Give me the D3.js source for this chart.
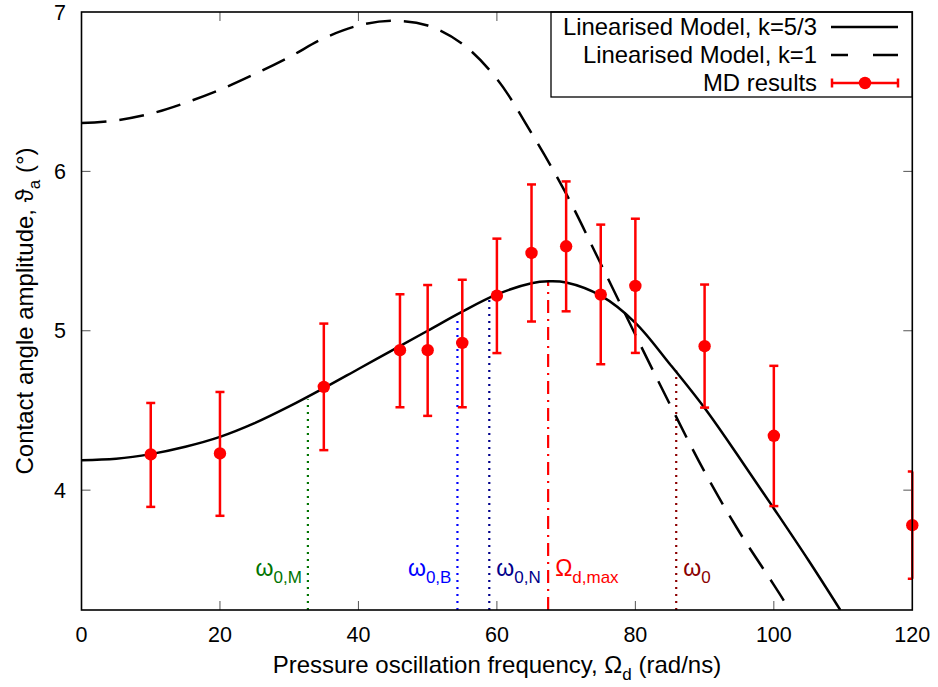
<!DOCTYPE html>
<html><head><meta charset="utf-8">
<script src="https://cdn.jsdelivr.net/npm/d3@7"></script>
<style>body{margin:0;background:#fff}svg{display:block;font-family:"Liberation Sans",Arial,sans-serif}</style>
</head><body><svg id="c" width="938" height="687"></svg>
<script>
// ---- data ----
const mdX    = [10, 20, 35, 46, 50, 55, 60, 65, 70, 75, 80, 90, 100, 120];
const mdY    = [4.224, 4.23, 4.648, 4.878, 4.878, 4.924, 5.22, 5.488, 5.53, 5.227, 5.281, 4.903, 4.341, 3.78];
const mdLow  = [3.895, 3.839, 4.251, 4.52, 4.466, 4.52, 4.86, 5.058, 5.122, 4.79, 4.861, 4.518, 3.90, 3.444];
const mdHigh = [4.547, 4.616, 5.045, 5.229, 5.287, 5.32, 5.578, 5.918, 5.937, 5.666, 5.703, 5.29, 4.78, 4.117];

const k53X = [0, 5, 10, 15, 20, 25, 30, 35, 40, 45, 50, 55, 60, 65, 67.5, 70, 75, 80, 85, 90, 95, 100, 105, 109.6];
const k53Y = [4.188, 4.197, 4.226, 4.272, 4.334, 4.42, 4.525, 4.64, 4.76, 4.88, 5.0, 5.12, 5.228, 5.298, 5.31, 5.303, 5.22, 5.05, 4.79, 4.515, 4.205, 3.885, 3.56, 3.248];

const k1X = [0, 5, 10, 15, 20, 25, 30, 35, 40, 45, 50, 55, 60, 65, 70, 75, 80, 85, 90, 95, 100, 102.3];
const k1Y = [6.303, 6.32, 6.362, 6.43, 6.512, 6.61, 6.717, 6.835, 6.915, 6.945, 6.915, 6.80, 6.58, 6.24, 5.86, 5.42, 4.975, 4.537, 4.115, 3.739, 3.406, 3.248];

const markerX      = [32.7, 54.3, 58.9, 67.4, 85.9];
const markerTop    = [4.57, 5.09, 5.20, 5.31, 4.75];
const markerSymbol = ["ω", "ω", "ω", "Ω", "ω"];
const markerSub    = ["0,M", "0,B", "0,N", "d,max", "0"];
const markerColor  = ["#007400", "#0000ff", "#00008b", "#ff0000", "#8b0000"];
const markerSide   = ["end", "end", "start", "start", "start"];
const markerDash   = ["2,5", "2,5", "2,5", "13,6,2,6", "2,5"];

const xTicks = [0, 20, 40, 60, 80, 100, 120];
const yTicks = [4, 5, 6, 7];
const legendLabels = ["Linearised Model, k=5/3", "Linearised Model, k=1", "MD results"];
const legendWidths = [254, 234, 114];

// ---- layout ----
const L = 81.5, R = 912.3, T = 12, B = 610;
const svg = d3.select("#c");
const x = d3.scaleLinear().domain([0, 120]).range([L, R]);
const y = d3.scaleLinear().domain([3.248, 7]).range([B, T]);

svg.append("defs").append("clipPath").attr("id", "clip")
  .append("rect").attr("x", L).attr("y", T).attr("width", R - L).attr("height", B - T);

// ticks (inner, mirrored)
const tk = 9;
const gt = svg.append("g").attr("stroke", "#555").attr("stroke-width", 1);
xTicks.slice(1, -1).forEach(v => {
  gt.append("line").attr("x1", x(v)).attr("x2", x(v)).attr("y1", B).attr("y2", B - tk);
  gt.append("line").attr("x1", x(v)).attr("x2", x(v)).attr("y1", T).attr("y2", T + tk);
});
yTicks.filter(v => v < 7).forEach(v => {
  gt.append("line").attr("x1", L).attr("x2", L + tk).attr("y1", y(v)).attr("y2", y(v));
  gt.append("line").attr("x1", R).attr("x2", R - tk).attr("y1", y(v)).attr("y2", y(v));
});

// tick labels
svg.append("g").selectAll("text").data(xTicks).join("text")
  .attr("x", d => x(d)).attr("y", 642).attr("text-anchor", "middle")
  .attr("font-size", 21.5).text(d => d);
svg.append("g").selectAll("text").data(yTicks).join("text")
  .attr("x", 66).attr("y", d => y(d) + 7.5).attr("text-anchor", "end")
  .attr("font-size", 21.5).text(d => d);

// axis titles
const xl = svg.append("text").attr("x", (L + R) / 2).attr("y", 673).attr("text-anchor", "middle").attr("font-size", 24);
xl.append("tspan").text("Pressure oscillation frequency, Ω");
xl.append("tspan").attr("font-size", 17).attr("dy", 7).text("d");
xl.append("tspan").attr("dy", -7).text(" (rad/ns)");

const yl = svg.append("text").attr("transform", "translate(33,311) rotate(-90)").attr("text-anchor", "middle").attr("font-size", 24);
yl.append("tspan").text("Contact angle amplitude, ϑ");
yl.append("tspan").attr("font-size", 17).attr("dy", 7).text("a");
yl.append("tspan").attr("dy", -7).text(" (°)");

// vertical markers
markerX.forEach((mx, i) => {
  svg.append("line").attr("x1", x(mx)).attr("x2", x(mx)).attr("y1", B).attr("y2", y(markerTop[i]))
    .attr("stroke", markerColor[i]).attr("stroke-width", 2.2).attr("stroke-dasharray", markerDash[i]);
  const off = markerSide[i] === "end" ? -6 : 7;
  const t = svg.append("text").attr("x", x(mx) + off).attr("y", 576).attr("text-anchor", markerSide[i])
    .attr("fill", markerColor[i]).attr("font-size", 23);
  t.append("tspan").text(markerSymbol[i]);
  t.append("tspan").attr("font-size", 17).attr("dy", 7).text(markerSub[i]);
});

// curves
const line = d3.line().x(d => x(d[0])).y(d => y(d[1])).curve(d3.curveCatmullRom.alpha(0.5));
const cg = svg.append("g").attr("clip-path", "url(#clip)");
cg.append("path").datum(k1X.map((v, i) => [v, k1Y[i]])).attr("d", line)
  .attr("fill", "none").attr("stroke", "#000").attr("stroke-width", 2.5).attr("stroke-dasharray", "25,13");
cg.append("path").datum(k53X.map((v, i) => [v, k53Y[i]])).attr("d", line)
  .attr("fill", "none").attr("stroke", "#000").attr("stroke-width", 2.5);

// MD results
const eg = svg.append("g").attr("stroke", "#ff0000").attr("stroke-width", 2.5);
mdX.forEach((v, i) => {
  const px = x(v);
  eg.append("line").attr("x1", px).attr("x2", px).attr("y1", y(mdLow[i])).attr("y2", y(mdHigh[i]));
  eg.append("line").attr("x1", px - 4.5).attr("x2", Math.min(px + 4.5, R)).attr("y1", y(mdLow[i])).attr("y2", y(mdLow[i]));
  eg.append("line").attr("x1", px - 4.5).attr("x2", Math.min(px + 4.5, R)).attr("y1", y(mdHigh[i])).attr("y2", y(mdHigh[i]));
});
svg.append("g").selectAll("circle").data(mdX).join("circle")
  .attr("cx", d => x(d)).attr("cy", (d, i) => y(mdY[i])).attr("r", 6.2).attr("fill", "#ff0000");

// legend
svg.append("rect").attr("x", 551).attr("y", T).attr("width", R - 551).attr("height", 85)
  .attr("fill", "#fff").attr("stroke", "#000").attr("stroke-width", 1.3);
const rows = [27, 55, 83];
legendLabels.forEach((lab, i) => {
  svg.append("text").attr("x", 817).attr("y", rows[i] + 8).attr("text-anchor", "end").attr("font-size", 24)
    .attr("textLength", legendWidths[i]).attr("lengthAdjust", "spacingAndGlyphs").text(lab);
});
svg.append("line").attr("x1", 831).attr("x2", 898).attr("y1", rows[0]).attr("y2", rows[0]).attr("stroke", "#000").attr("stroke-width", 2.5);
svg.append("line").attr("x1", 831).attr("x2", 898).attr("y1", rows[1]).attr("y2", rows[1]).attr("stroke", "#000").attr("stroke-width", 2.5).attr("stroke-dasharray", "17,25,25");
const lg = svg.append("g").attr("stroke", "#ff0000").attr("stroke-width", 2.5);
lg.append("line").attr("x1", 832).attr("x2", 898).attr("y1", rows[2]).attr("y2", rows[2]);
lg.append("line").attr("x1", 832).attr("x2", 832).attr("y1", rows[2] - 4.5).attr("y2", rows[2] + 4.5);
lg.append("line").attr("x1", 898).attr("x2", 898).attr("y1", rows[2] - 4.5).attr("y2", rows[2] + 4.5);
svg.append("circle").attr("cx", 865).attr("cy", rows[2]).attr("r", 6.2).attr("fill", "#ff0000");

// frame
svg.append("rect").attr("x", L).attr("y", T).attr("width", R - L).attr("height", B - T)
  .attr("fill", "none").attr("stroke", "#000").attr("stroke-width", 1.6);
</script></body></html>
